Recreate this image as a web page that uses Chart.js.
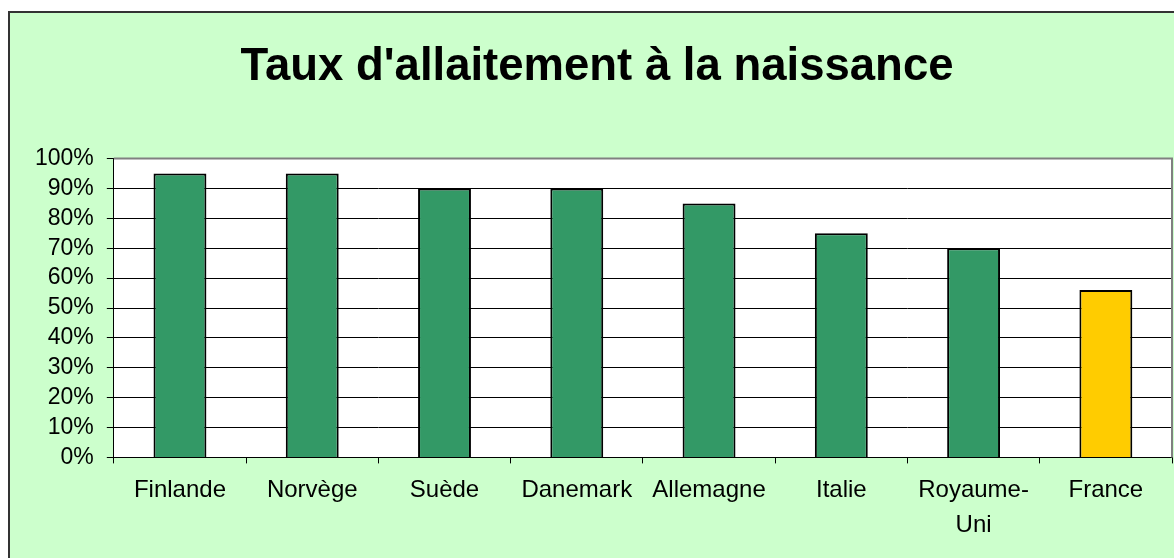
<!DOCTYPE html>
<html>
<head>
<meta charset="utf-8">
<script src="https://cdn.jsdelivr.net/npm/chart.js@4/dist/chart.umd.min.js"></script>
<style>
  html, body { margin: 0; padding: 0; background: #fff; }
  #wrap { width: 1174px; height: 558px; }
</style>
</head>
<body>
<div id="wrap"><canvas id="graficoAllaitement"></canvas></div>
<script>
// Données
var pays = ['Finlande', 'Norvège', 'Suède', 'Danemark', 'Allemagne', 'Italie', ['Royaume-', 'Uni'], 'France'];
var taux = [95, 95, 90, 90, 85, 75, 70, 56];
var couleurs = ['#339966', '#339966', '#339966', '#339966', '#339966', '#339966', '#339966', '#FFCC00'];
var ticksY = [0, 10, 20, 30, 40, 50, 60, 70, 80, 90, 100];

// Fond vert et cadre
var fondPlugin = {
    id: 'fond',
    beforeDraw: function(chart) {
        var c = chart.ctx;
        c.save();
        c.fillStyle = '#ffffff';
        c.fillRect(0, 0, chart.width, chart.height);
        c.fillStyle = '#CCFFCC';
        c.fillRect(9, 12, chart.width - 9, chart.height - 12);
        c.strokeStyle = '#333333';
        c.lineWidth = 2;
        c.beginPath();
        c.moveTo(9, chart.height);
        c.lineTo(9, 12);
        c.lineTo(chart.width, 12);
        c.stroke();
        var a = chart.chartArea;
        c.fillStyle = '#ffffff';
        c.fillRect(a.left, a.top, a.right - a.left, a.bottom - a.top);
        c.restore();
    },
    afterDatasetsDraw: function(chart) {
        var c = chart.ctx, a = chart.chartArea;
        c.save();
        c.strokeStyle = '#808080';
        c.lineWidth = 2;
        c.beginPath();
        c.moveTo(a.left, a.top);
        c.lineTo(a.right, a.top);
        c.lineTo(a.right, a.bottom);
        c.stroke();
        c.restore();
    }
};

var ctx = document.getElementById('graficoAllaitement').getContext('2d');

var grafico = new Chart(ctx, {
    type: 'bar',
    data: {
        labels: pays,
        datasets: [{
            label: "Taux d'allaitement",
            data: taux,
            backgroundColor: couleurs,
            borderColor: '#000000',
            borderWidth: 2,
            barPercentage: 0.4,
            categoryPercentage: 1
        }]
    },
    options: {
        responsive: true,
        maintainAspectRatio: false,
        animation: false,
        layout: { padding: { left: 22, right: 2, top: 0, bottom: 5 } },
        plugins: {
            legend: { display: false },
            tooltip: { enabled: false },
            title: {
                display: true,
                text: "Taux d'allaitement à la naissance",
                color: '#000000',
                font: { family: "'Liberation Sans', Arial, sans-serif", size: 45.5, weight: 'bold' },
                padding: { top: 40, bottom: 64 }
            }
        },
        scales: {
            x: {
                offset: true,
                grid: { display: true, drawOnChartArea: false, drawTicks: true, tickLength: 6, color: '#000000', offset: true },
                border: { color: '#000000', width: 1 },
                ticks: {
                    color: '#000000',
                    padding: 10,
                    maxRotation: 0,
                    autoSkip: false,
                    font: { family: "'Liberation Sans', Arial, sans-serif", size: 24, lineHeight: 1.45 }
                }
            },
            y: {
                min: 0,
                max: 100,
                afterBuildTicks: function(axis) {
                    axis.ticks = ticksY.map(function(v) { return { value: v }; });
                },
                grid: { color: '#000000', tickLength: 7, lineWidth: 1 },
                border: { color: '#000000', width: 1 },
                ticks: {
                    color: '#000000',
                    padding: 13,
                    autoSkip: false,
                    font: { family: "'Liberation Sans', Arial, sans-serif", size: 23 },
                    callback: function(v) { return v + '%'; }
                }
            }
        }
    },
    plugins: [fondPlugin]
});
</script>
</body>
</html>
